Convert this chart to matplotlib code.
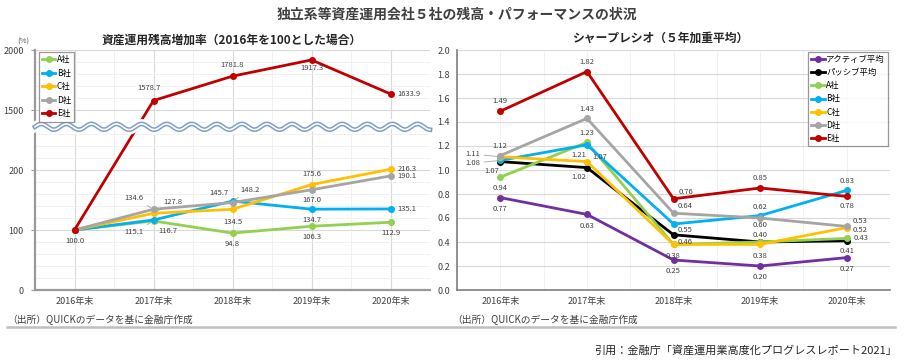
import numpy as np
import matplotlib
matplotlib.use('Agg')
import matplotlib.pyplot as plt

plt.rcParams['font.family'] = ['Noto Sans CJK JP', 'DejaVu Sans']

years = ['2016年末', '2017年末', '2018年末', '2019年末', '2020年末']

# 資産運用残高増加率
growth_a = [100.0, 115.1, 94.8, 106.3, 112.9]
growth_b = [100.0, 116.7, 148.2, 134.7, 135.1]
growth_c = [100.0, 127.8, 134.5, 175.6, 216.3]
growth_d = [100.0, 134.6, 145.7, 167.0, 190.1]
growth_e = [100.0, 1578.7, 1781.8, 1917.3, 1633.9]

# シャープレシオ
sharpe_active = [0.77, 0.63, 0.25, 0.20, 0.27]
sharpe_passive = [1.07, 1.02, 0.46, 0.40, 0.41]
sharpe_a = [0.94, 1.23, 0.38, 0.40, 0.43]
sharpe_b = [1.08, 1.21, 0.55, 0.62, 0.83]
sharpe_c = [1.11, 1.07, 0.38, 0.38, 0.52]
sharpe_d = [1.12, 1.43, 0.64, 0.60, 0.53]
sharpe_e = [1.49, 1.82, 0.76, 0.85, 0.78]

col = {'A': '#92d050', 'B': '#00b0f0', 'C': '#ffc000', 'D': '#a5a5a5',
       'E': '#c00000', 'act': '#7030a0', 'pas': '#000000'}
lab_col = '#404040'

fig = plt.figure(figsize=(9.14, 3.64), dpi=100)
W, H = 914, 364


def px_axes(x0, y0, x1, y1):
    return fig.add_axes([x0 / W, 1 - y1 / H, (x1 - x0) / W, (y1 - y0) / H])


# 省略軸 (0-200 と 1500-2000)
xp = [-1e6, 0, 200, 1500, 2000, 1e6]
fp = [-1e6, 0, 200, 300, 400, 400 + (1e6 - 2000) * 0.2]


def fwd(v):
    return np.interp(v, xp, fp)


def inv(f):
    return np.interp(f, fp, xp)


x = np.arange(len(years))

# ---- 左のグラフ ----
ax1 = px_axes(35, 50, 430, 290)
ax1.set_yscale('function', functions=(fwd, inv))
ax1.set_ylim(0, 2000)
ax1.set_xlim(-0.5, 4.5)
ax1.set_yticks([0, 100, 200, 1500, 2000])
ax1.set_yticks(inv(np.arange(0, 401, 20)), minor=True)
ax1.set_xticks(x)
ax1.set_xticks(np.arange(-0.5, 4.6, 1), minor=True)
ax1.set_xticklabels(years)
ax1.grid(True, which='major', color='#d9d9d9', lw=0.8)
ax1.grid(True, which='minor', color='#efefef', lw=0.6)
ax1.set_axisbelow(True)
for s in ['top', 'right']:
    ax1.spines[s].set_visible(False)
for s in ['left', 'bottom']:
    ax1.spines[s].set_color('#999999')
    ax1.spines[s].set_linewidth(1.6)
ax1.tick_params(which='both', length=0, labelsize=6.5, labelcolor='#404040', pad=5)
ax1.tick_params(axis='y', which='major', length=3, color='#999999')
ax1.tick_params(axis='y', which='minor', length=0)
ax1.text(-0.03, 1.025, '(%)', transform=ax1.transAxes, fontsize=5.5, color='#595959', ha='center')

for key, vals, name in [('A', growth_a, 'A社'), ('B', growth_b, 'B社'), ('C', growth_c, 'C社'),
                        ('D', growth_d, 'D社'), ('E', growth_e, 'E社')]:
    ax1.plot(x, vals, color=col[key], lw=2, marker='o', ms=4, label=name)

def lab(ax, xi, y, s, dx, dy, ha='center', leader=False):
    if leader:
        ax.annotate(s, (xi, y), xytext=(dx, dy), textcoords='offset points', ha=ha, va='center',
                    fontsize=5.5, color=lab_col,
                    arrowprops=dict(arrowstyle='-', color='#a6a6a6', lw=0.6, shrinkA=1, shrinkB=2))
    else:
        ax.annotate(s, (xi, y), xytext=(dx, dy), textcoords='offset points', ha=ha, va='center',
                    fontsize=5.5, color=lab_col)

lab(ax1, 0, 100.0, '100.0', 0, -8)
lab(ax1, 1, growth_e[1], '1578.7', -3, 9)
lab(ax1, 2, growth_e[2], '1781.8', 0, 8)
lab(ax1, 3, growth_e[3], '1917.3', 0, -6)
lab(ax1, 4, growth_e[4], '1633.9', 5, 0, ha='left')
lab(ax1, 1, growth_a[1], '115.1', -14, -8, ha='center', leader=True)
lab(ax1, 2, growth_a[2], '94.8', 0, -8)
lab(ax1, 3, growth_a[3], '106.3', 0, -8)
lab(ax1, 4, growth_a[4], '112.9', 0, -8)
lab(ax1, 1, growth_b[1], '116.7', 10, -8, ha='center', leader=True)
lab(ax1, 2, growth_b[2], '148.2', 13, 8, ha='center', leader=True)
lab(ax1, 3, growth_b[3], '134.7', 0, -8)
lab(ax1, 4, growth_b[4], '135.1', 5, 0, ha='left')
lab(ax1, 1, growth_c[1], '127.8', 14, 8, ha='center', leader=True)
lab(ax1, 2, growth_c[2], '134.5', 0, -9)
lab(ax1, 3, growth_c[3], '175.6', 0, 8)
lab(ax1, 4, growth_c[4], '216.3', 5, 0, ha='left')
lab(ax1, 1, growth_d[1], '134.6', -14, 8, ha='center', leader=True)
lab(ax1, 2, growth_d[2], '145.7', -10, 7)
lab(ax1, 3, growth_d[3], '167.0', 0, -7)
lab(ax1, 4, growth_d[4], '190.1', 5, 0, ha='left')

# 波線
wx = np.linspace(0, 1, 600)
wy = 0.68 + 0.012 * np.sin(2 * np.pi * wx / 0.0635)
ax1.plot(wx, wy, transform=ax1.transAxes, color='white', lw=7, zorder=5, clip_on=False)
ax1.plot(wx, wy, transform=ax1.transAxes, color='#7f9fc8', lw=3.4, zorder=6, clip_on=False)
ax1.plot(wx, wy, transform=ax1.transAxes, color='white', lw=1.2, zorder=7, clip_on=False)

leg1 = ax1.legend(loc='upper left', bbox_to_anchor=(0.005, 1.0), fontsize=6, frameon=True,
                  fancybox=False, edgecolor='#7f7f7f', handlelength=1.6, handletextpad=0.2,
                  borderpad=0.4, labelspacing=0.55, borderaxespad=0.2)
leg1.get_frame().set_linewidth(0.9)
leg1.set_zorder(8)

# ---- 右のグラフ ----
ax2 = px_axes(457, 50, 890, 290)
ax2.set_ylim(0, 2.0)
ax2.set_xlim(-0.5, 4.5)
ax2.set_yticks(np.arange(0, 2.01, 0.2))
ax2.set_yticklabels([f'{v:.1f}' for v in np.arange(0, 2.01, 0.2)])
ax2.set_xticks(x)
ax2.set_xticks(np.arange(-0.5, 4.6, 1), minor=True)
ax2.set_xticklabels(years)
ax2.grid(True, axis='y', which='major', color='#d9d9d9', lw=0.8)
ax2.grid(True, axis='x', which='both', color='#f0f0f0', lw=0.6)
ax2.set_axisbelow(True)
for s in ['top', 'right']:
    ax2.spines[s].set_visible(False)
for s in ['left', 'bottom']:
    ax2.spines[s].set_color('#7f7f7f')
    ax2.spines[s].set_linewidth(1.2)
ax2.tick_params(which='both', length=0, labelsize=6.5, labelcolor='#404040', pad=5)

series2 = [('act', sharpe_active, 'アクティブ平均'), ('pas', sharpe_passive, 'パッシブ平均'),
           ('A', sharpe_a, 'A社'), ('B', sharpe_b, 'B社'), ('C', sharpe_c, 'C社'),
           ('D', sharpe_d, 'D社'), ('E', sharpe_e, 'E社')]
for key, vals, name in series2:
    ax2.plot(x, vals, color=col[key], lw=2, marker='o', ms=4, label=name)

f2 = lambda v: f'{v:.2f}'
# E社
lab(ax2, 0, sharpe_e[0], f2(sharpe_e[0]), 0, 7)
lab(ax2, 1, sharpe_e[1], f2(sharpe_e[1]), 0, 7)
lab(ax2, 2, sharpe_e[2], f2(sharpe_e[2]), 4, 5, ha='left')
lab(ax2, 3, sharpe_e[3], f2(sharpe_e[3]), 0, 7)
lab(ax2, 4, sharpe_e[4], f2(sharpe_e[4]), 0, -7)
# D社
lab(ax2, 0, sharpe_d[0], f2(sharpe_d[0]), 0, 7)
lab(ax2, 1, sharpe_d[1], f2(sharpe_d[1]), 0, 7)
lab(ax2, 2, sharpe_d[2], f2(sharpe_d[2]), 3, 5, ha='left')
lab(ax2, 3, sharpe_d[3], f2(sharpe_d[3]), 0, -5)
lab(ax2, 4, sharpe_d[4], f2(sharpe_d[4]), 4, 4, ha='left')
# C社
lab(ax2, 0, sharpe_c[0], f2(sharpe_c[0]), -20, 2, ha='center', leader=True)
lab(ax2, 1, sharpe_c[1], f2(sharpe_c[1]), 9, 3, ha='center')
lab(ax2, 3, sharpe_c[3], f2(sharpe_c[3]), 0, -8)
lab(ax2, 4, sharpe_c[4], f2(sharpe_c[4]), 4, -2, ha='left')
# B社
lab(ax2, 0, sharpe_b[0], f2(sharpe_b[0]), -20, -2, ha='center', leader=True)
lab(ax2, 1, sharpe_b[1], f2(sharpe_b[1]), -6, -7)
lab(ax2, 2, sharpe_b[2], f2(sharpe_b[2]), 3, -4, ha='left')
lab(ax2, 3, sharpe_b[3], f2(sharpe_b[3]), 0, 6)
lab(ax2, 4, sharpe_b[4], f2(sharpe_b[4]), 0, 7)
# A社
lab(ax2, 0, sharpe_a[0], f2(sharpe_a[0]), 0, -8)
lab(ax2, 1, sharpe_a[1], f2(sharpe_a[1]), 0, 7)
lab(ax2, 2, sharpe_a[2], f2(sharpe_a[2]), 0, -8)
lab(ax2, 3, sharpe_a[3], f2(sharpe_a[3]), 0, 5)
lab(ax2, 4, sharpe_a[4], f2(sharpe_a[4]), 5, 0, ha='left')
# パッシブ平均
lab(ax2, 0, sharpe_passive[0], f2(sharpe_passive[0]), -6, -7)
lab(ax2, 1, sharpe_passive[1], f2(sharpe_passive[1]), -6, -7)
lab(ax2, 2, sharpe_passive[2], f2(sharpe_passive[2]), 3, -5, ha='left')
lab(ax2, 4, sharpe_passive[4], f2(sharpe_passive[4]), 0, -7)
# アクティブ平均
for i, v in enumerate(sharpe_active):
    lab(ax2, i, v, f2(v), 0, -8)

leg2 = ax2.legend(loc='upper right', bbox_to_anchor=(1.0, 1.0), fontsize=6, frameon=True,
                  fancybox=False, edgecolor='#7f7f7f', handlelength=1.6, handletextpad=0.2,
                  borderpad=0.4, labelspacing=0.5, borderaxespad=0.2)
leg2.get_frame().set_linewidth(0.9)

# ---- 文字 ----
fig.text(457 / W, 1 - 15 / H, '独立系等資産運用会社５社の残高・パフォーマンスの状況', ha='center', va='center',
         fontsize=10, color='#404040', fontweight='bold')
fig.text(232 / W, 1 - 40 / H, '資産運用残高増加率（2016年を100とした場合）', ha='center', va='center',
         fontsize=8.5, color='#262626', fontweight='bold')
fig.text(660 / W, 1 - 38 / H, 'シャープレシオ（５年加重平均）', ha='center', va='center',
         fontsize=8.5, color='#262626', fontweight='bold')
fig.text(7 / W, 1 - 320 / H, '（出所）QUICKのデータを基に金融庁作成', ha='left', va='center',
         fontsize=7, color='#404040')
fig.text(452 / W, 1 - 320 / H, '（出所）QUICKのデータを基に金融庁作成', ha='left', va='center',
         fontsize=7, color='#404040')
fig.add_artist(plt.Line2D([7 / W, 895 / W], [1 - 327 / H, 1 - 327 / H], color='#bfbfbf', lw=1.8))
fig.text(897 / W, 1 - 350 / H, '引用：金融庁「資産運用業高度化プログレスレポート2021」', ha='right', va='center',
         fontsize=8, color='#262626')

fig.savefig('out.png', dpi=100)
